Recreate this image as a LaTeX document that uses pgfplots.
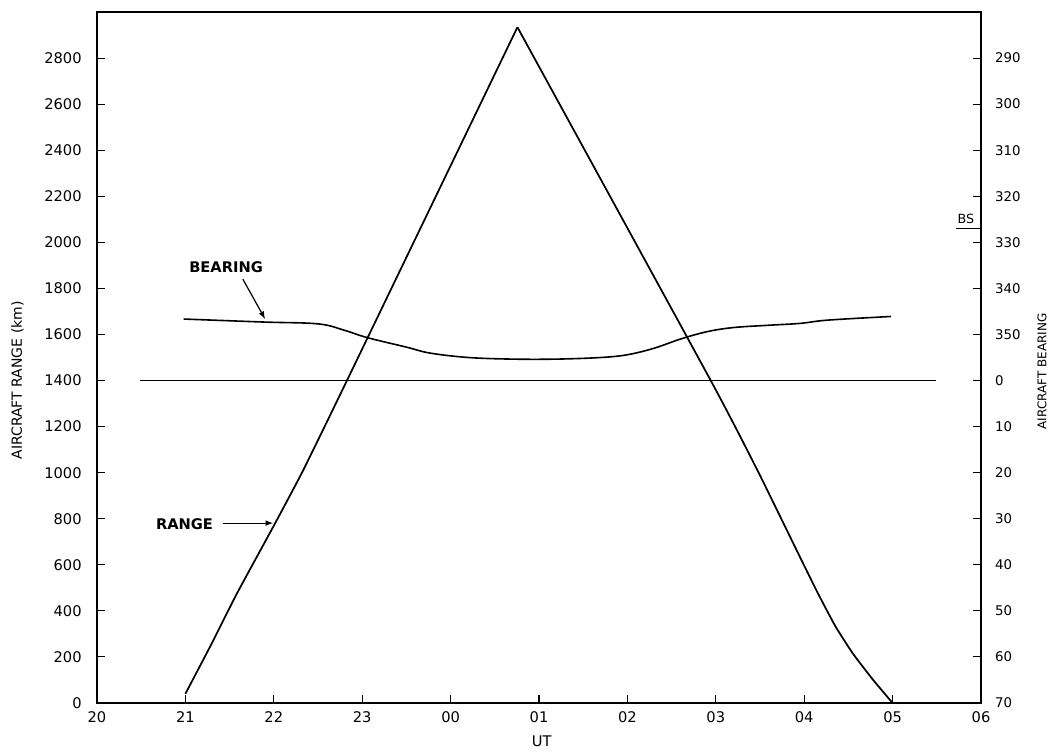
\documentclass[border=0pt]{standalone}
\usepackage{fontspec}
\setmainfont{DejaVu Sans}
\usepackage{pgfplots}
\pgfplotsset{compat=1.18}
\begin{document}
\begin{tikzpicture}
\begin{axis}[
  name=main,
  at={(0,0)}, anchor=south west,
  scale only axis, width=663pt, height=518.25pt,
  xmin=0, xmax=10, ymin=0, ymax=3000,
  clip=false,
  axis line style={line width=0.9pt},
  xtick={0,1,...,10},
  xticklabels={20,21,22,23,00,01,02,03,04,05,06},
  xtick pos=bottom, ytick pos=left,
  ytick={0,200,...,2800},
  yticklabels={0,200,400,600,800,1000,1200,1400,1600,1800,2000,2200,2400,2600,2800},
  tick align=inside,
  major tick length=6pt,
  tick style={line width=0.8pt, black},
  ticklabel style={font=\fontsize{11}{13}\selectfont},
  xticklabel style={yshift=-3pt},
  yticklabel style={xshift=-8pt},
]
% reference line at bearing 0
\addplot[black, line width=0.6pt] coordinates {(0.49,1400) (9.49,1400)};
% range, outbound leg
\addplot[black, line width=1.3pt, smooth, tension=0.3] coordinates {
 (1.0,40) (1.3,260) (1.585,477) (2.016,781) (2.333,1011) (2.83,1402)
 (4.756,2934)};
% range, inbound leg
\addplot[black, line width=1.3pt, smooth, tension=0.3] coordinates {
 (4.756,2934) (6.94,1402) (7.47,1011) (7.93,651) (8.15,480) (8.35,335)
 (8.55,215) (8.78,100) (9.0,0)};
% bearing
\addplot[black, line width=1.2pt, smooth, tension=0.6] coordinates {
 (0.98,1667) (1.88,1654) (2.5,1646) (2.8,1618) (3.06,1586) (3.5,1545)
 (3.77,1519) (4.2,1500) (4.7,1493) (5.2,1493) (5.7,1500) (6.0,1512)
 (6.3,1540) (6.6,1580) (6.9,1612) (7.2,1630) (7.6,1640) (7.95,1648)
 (8.2,1660) (8.5,1668) (8.98,1678)};
% annotations
\node[font=\bfseries\fontsize{11}{13}\selectfont] at (axis cs:1.46,1892) {BEARING};
\draw[-latex, line width=0.9pt] (axis cs:1.65,1840) -- (axis cs:1.90,1668);
\node[font=\bfseries\fontsize{11}{13}\selectfont] at (axis cs:0.99,777) {RANGE};
\draw[-latex, line width=0.9pt] (axis cs:1.42,781) -- (axis cs:1.99,781);
\draw[line width=0.8pt] (axis cs:9.72,2062) -- (axis cs:10,2062);
\node[font=\fontsize{9.5}{11}\selectfont, anchor=south] at (axis cs:9.83,2062) {BS};
\node[font=\fontsize{11}{13}\selectfont] at (rel axis cs:0.503,-0.055) {UT};
\node[rotate=90, font=\fontsize{10.5}{12}\selectfont] at (rel axis cs:-0.090,0.467) {AIRCRAFT RANGE (km)};
\node[rotate=90, font=\fontsize{9}{11}\selectfont] at (rel axis cs:1.069,0.48) {AIRCRAFT BEARING};
\end{axis}
\begin{axis}[
  at={(0,0)}, anchor=south west,
  scale only axis, width=663pt, height=518.25pt,
  xmin=0, xmax=10, ymin=0, ymax=3000,
  axis x line=none,
  axis y line*=right,
  axis line style={line width=0.9pt},
  ytick={0,200,...,2800},
  yticklabels={70,60,50,40,30,20,10,0,350,340,330,320,310,300,290},
  tick align=inside,
  major tick length=6pt,
  tick style={line width=0.8pt, black},
  ticklabel style={font=\fontsize{10}{12}\selectfont},
  yticklabel style={xshift=7pt},
]
\addplot[draw=none] coordinates {(0,0) (10,3000)};
\end{axis}
\pgfresetboundingbox
\path[use as bounding box] ([shift={(-72.75pt,-37.5pt)}]main.south west) rectangle ([shift={(56.25pt,9pt)}]main.north east);
\end{tikzpicture}
\end{document}
